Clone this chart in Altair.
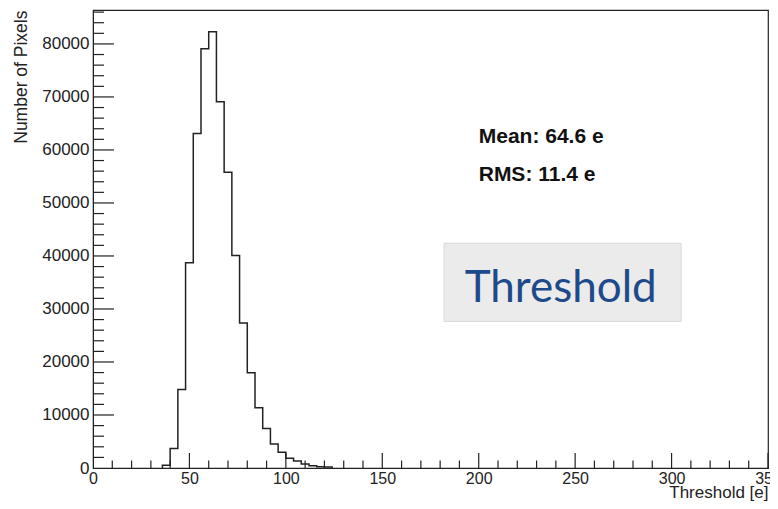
import altair as alt
import pandas as pd

# ---- data ----
bin_left = [36, 40, 44, 48, 52, 56, 60, 64, 68, 72, 76, 80, 84, 88, 92, 96,
            100, 104, 108, 112, 116, 120]
bin_width = 4
counts = [500, 3700, 14800, 38700, 63100, 79100, 82300, 69100, 55800, 40100,
          27350, 17950, 11360, 7470, 4520, 2950, 1820, 1320, 750, 430, 250, 190]

x_major = [0, 50, 100, 150, 200, 250, 300, 350]
y_major = [0, 10000, 20000, 30000, 40000, 50000, 60000, 70000, 80000]
x_minor = [v for v in range(0, 351, 10) if v % 50 != 0]
y_minor = [v for v in range(0, 86001, 2000) if v % 10000 != 0]

stats_text = ["Mean: 64.6 e", "RMS: 11.4 e"]
stats_x = [200, 200]
stats_y = [61300, 54100]

box_x = [182]
box_x2 = [305]
box_y = [42400]
box_y2 = [27650]
label_text = ["Threshold"]
label_x = [242.5]
label_y = [31300]

X_DOMAIN = [0, 350]
Y_DOMAIN = [0, 86400]
W, H = 675, 458
FONT = "Liberation Sans"
INK = "#222222"

xs = alt.Scale(domain=X_DOMAIN, nice=False, zero=False)
ys = alt.Scale(domain=Y_DOMAIN, nice=False, zero=False)

x_axis = alt.Axis(
    values=x_major, tickSize=0, labelPadding=2, labelFont=FONT,
    labelFontSize=16, labelColor=INK, domainColor=INK, grid=False,
    labelFlush=False, labelOverlap=False,
    title="Threshold [e]", titleFont=FONT, titleFontSize=17,
    titleFontWeight="normal", titleColor=INK, titleX=W, titleY=29.5,
    titleAlign="right", titleBaseline="alphabetic", titleAnchor="end")
y_axis = alt.Axis(
    values=y_major, format="d", tickSize=0, labelPadding=4,
    labelFont=FONT, labelFontSize=17, labelColor=INK, domainColor=INK,
    grid=False, labelFlush=False, labelOverlap=False,
    title="Number of Pixels", titleFont=FONT, titleFontSize=17.5,
    titleFontWeight="normal", titleColor=INK, titleX=-72, titleY=0,
    titleAngle=270, titleAlign="right", titleBaseline="middle",
    titleAnchor="end")


def X(field):
    return alt.X(field, scale=xs, axis=x_axis)


def Y(field):
    return alt.Y(field, scale=ys, axis=y_axis)


# step outline of the histogram
hx = [bin_left[0]] + bin_left + [bin_left[-1] + bin_width]
hy = [0] + counts + [0]
hist_df = pd.DataFrame({"x": hx, "y": hy, "i": list(range(len(hx)))})

hist = alt.Chart(hist_df).mark_line(
    interpolate="step-after", color=INK, strokeWidth=1.5
).encode(x=X("x:Q"), y=Y("y:Q"), order=alt.Order("i:Q"))


def xticks(vals, length):
    return alt.Chart(pd.DataFrame({"x": vals})).mark_rule(
        color=INK, strokeWidth=1.2
    ).encode(x=X("x:Q"), y=alt.value(H), y2=alt.value(H - length))


def yticks(vals, length):
    return alt.Chart(pd.DataFrame({"y": vals})).mark_rule(
        color=INK, strokeWidth=1.2
    ).encode(y=Y("y:Q"), x=alt.value(0), x2=alt.value(length))


box = alt.Chart(pd.DataFrame({"x": box_x, "x2": box_x2, "y": box_y, "y2": box_y2})).mark_rect(
    fill="#ebebeb", stroke="#dadada", strokeWidth=1
).encode(x=X("x:Q"), x2="x2:Q", y=Y("y:Q"), y2="y2:Q")

stats = alt.Chart(pd.DataFrame({"t": stats_text, "x": stats_x, "y": stats_y})).mark_text(
    align="left", baseline="alphabetic", font=FONT, fontSize=21,
    fontWeight="bold", color="#111111"
).encode(x=X("x:Q"), y=Y("y:Q"), text="t:N")

label = alt.Chart(pd.DataFrame({"t": label_text, "x": label_x, "y": label_y})).mark_text(
    align="center", baseline="alphabetic", font="Lato", fontSize=44,
    color="#1d4a8a"
).encode(x=X("x:Q"), y=Y("y:Q"), text="t:N")

chart = alt.layer(
    box, label, stats,
    xticks(x_minor, 7.5), xticks(x_major[1:], 15),
    yticks(y_minor, 11), yticks(y_major[1:], 21),
    hist,
).properties(
    width=W, height=H,
    autosize=alt.AutoSizeParams(type="none"),
    padding={"left": 85, "top": 2, "right": 2, "bottom": 33},
    background="white",
).configure_view(stroke=INK, strokeWidth=1.2)

chart.save("out.html", embed_options={"renderer": "svg", "actions": False})
